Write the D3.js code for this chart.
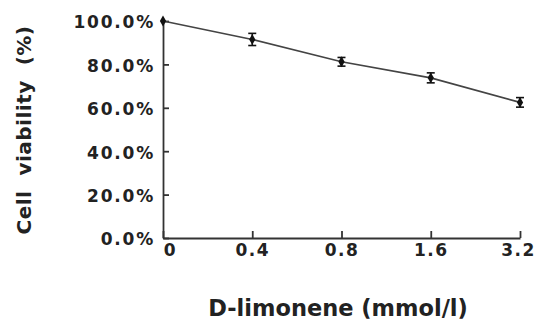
<!DOCTYPE html>
<html>
<head>
<meta charset="utf-8">
<script src="https://cdn.jsdelivr.net/npm/d3@7"></script>
<style>
  body { margin: 0; background: #fff; }
  text { font-family: "DejaVu Sans", sans-serif; font-weight: bold; fill: #222; }
</style>
</head>
<body>
<svg id="chart" width="539" height="321"></svg>
<script>
// doses (mmol/l) and viability (%)
const doses = ['0', '0.4', '0.8', '1.6', '3.2'];
const viability = [100, 91.5, 81.2, 73.8, 62.5];
const errors = [0, 2.8, 2.0, 2.3, 2.2];
const yTicks = [0, 20, 40, 60, 80, 100];

const svg = d3.select('#chart');
const plotLeft = 163, plotRight = 520, plotTop = 21, plotBottom = 238;

const x = d3.scalePoint().domain(doses).range([plotLeft, plotRight]);
const y = d3.scaleLinear().domain([0, 100]).range([plotBottom, plotTop]);

// y axis
const yAxis = svg.append('g')
  .attr('transform', `translate(${plotLeft},0)`)
  .call(d3.axisLeft(y).tickValues(yTicks).tickSizeInner(-6).tickSizeOuter(0)
    .tickPadding(8).tickFormat(d => d.toFixed(1) + '%'));
yAxis.selectAll('text')
  .style('font-size', '17px')
  .style('letter-spacing', '1.8px')
  .attr('dy', '0.4em');

// x axis
const xAxis = svg.append('g')
  .attr('transform', `translate(0,${plotBottom})`)
  .call(d3.axisBottom(x).tickSizeInner(-7).tickSizeOuter(0));
xAxis.selectAll('text')
  .style('font-size', '17px')
  .style('letter-spacing', '1.5px')
  .attr('y', 6)
  .attr('dx', (d, i) => i === 0 ? 7 : (i === doses.length - 1 ? -2 : 0));

svg.selectAll('.domain, .tick line').attr('stroke', '#333').attr('stroke-width', 1.8);
svg.selectAll('.tick text').attr('fill', '#222');

// line
const line = d3.line().x((d, i) => x(doses[i])).y(d => y(d));
svg.append('path')
  .datum(viability)
  .attr('d', line)
  .attr('fill', 'none')
  .attr('stroke', '#444')
  .attr('stroke-width', 1.6);

// error bars
const eb = svg.append('g').attr('stroke', '#111').attr('stroke-width', 1.6);
viability.forEach((v, i) => {
  if (!errors[i]) return;
  const cx = x(doses[i]);
  eb.append('line').attr('x1', cx).attr('x2', cx).attr('y1', y(v - errors[i])).attr('y2', y(v + errors[i]));
  [v - errors[i], v + errors[i]].forEach(e => {
    eb.append('line').attr('x1', cx - 4).attr('x2', cx + 4).attr('y1', y(e)).attr('y2', y(e));
  });
});

// markers
svg.append('g').selectAll('path')
  .data(viability)
  .join('path')
  .attr('transform', (d, i) => `translate(${x(doses[i])},${y(d)})`)
  .attr('d', d3.symbol().type(d3.symbolDiamond).size(34))
  .attr('fill', '#111');

// axis titles
svg.append('text')
  .attr('transform', `translate(31,130) rotate(-90)`)
  .attr('text-anchor', 'middle')
  .style('font-size', '20px')
  .style('letter-spacing', '0.5px')
  .style('white-space', 'pre')
  .text('Cell  viability  (%)');

svg.append('text')
  .attr('x', 338)
  .attr('y', 316)
  .attr('text-anchor', 'middle')
  .style('font-size', '22.5px')
  .text('D-limonene (mmol/l)');
</script>
</body>
</html>
